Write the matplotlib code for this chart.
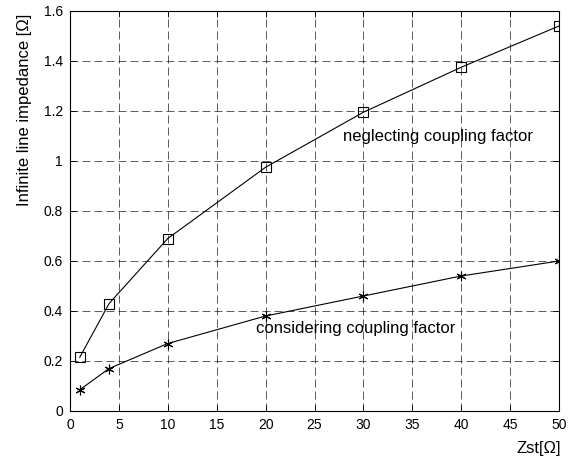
import matplotlib
matplotlib.use("Agg")
import matplotlib.pyplot as plt

plt.rcParams['font.family'] = ['Liberation Sans', 'DejaVu Sans']

zst = [1, 4, 10, 20, 30, 40, 50]
neglecting = [0.215, 0.43, 0.69, 0.975, 1.195, 1.375, 1.54]
considering = [0.085, 0.17, 0.27, 0.38, 0.46, 0.54, 0.60]

xticks = [0, 5, 10, 15, 20, 25, 30, 35, 40, 45, 50]
yticks = [0, 0.2, 0.4, 0.6, 0.8, 1.0, 1.2, 1.4, 1.6]
ytick_labels = ['0', '0.2', '0.4', '0.6', '0.8', '1', '1.2', '1.4', '1.6']

fig = plt.figure(figsize=(5.73, 4.59), dpi=100)
ax = fig.add_axes([70/573, 1 - 411/459, (559-70)/573, (411-11)/459])

ax.plot(zst, neglecting, color='k', lw=0.8, marker='s', markersize=7,
        markerfacecolor='none', markeredgecolor='k', markeredgewidth=0.8)
ax.plot(zst, considering, color='k', lw=0.8, marker=(6, 2, 0), markersize=7,
        markeredgecolor='k', markeredgewidth=0.8)

ax.set_xlim(0, 50)
ax.set_ylim(0, 1.6)
ax.set_xticks(xticks)
ax.set_yticks(yticks)
ax.set_yticklabels(ytick_labels)
ax.tick_params(direction='in', length=4, labelsize=10, top=True, right=True,
               width=0.6, pad=5)
ax.grid(True, color='k', linestyle=(0, (9.6, 4.8)), linewidth=0.6, alpha=0.75)
for s in ax.spines.values():
    s.set_linewidth(0.8)

ax.text(27.9, 1.096, 'neglecting coupling factor', fontsize=12, va='center', ha='left')
ax.text(19.0, 0.332, 'considering coupling factor', fontsize=12, va='center', ha='left')

fig.text(25/573, 1 - 110/459, 'Infinite line impedance [\u03a9]', fontsize=12,
         rotation=90, ha='center', va='center')
fig.text(561/573, 1 - 448/459, 'Zst[\u03a9]', fontsize=12, ha='right', va='center')

fig.savefig('out.png', dpi=100)
